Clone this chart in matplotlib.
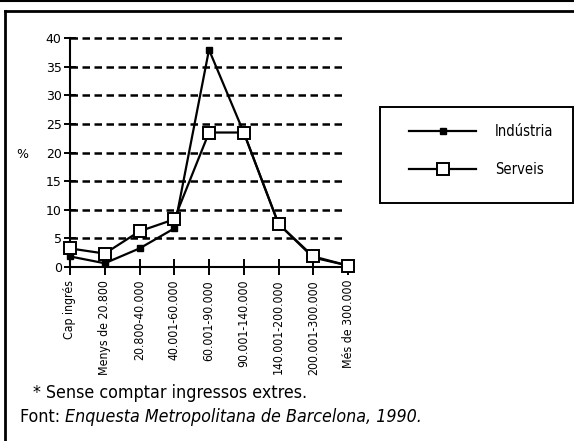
import matplotlib
matplotlib.use("Agg")
import matplotlib.pyplot as plt
from matplotlib.lines import Line2D
from matplotlib.patches import Rectangle

categories = ["Cap ingrés", "Menys de 20.800", "20.800-40.000", "40.001-60.000",
              "60.001-90.000", "90.001-140.000", "140.001-200.000",
              "200.001-300.000", "Més de 300.000"]
industria = [1.8, 0.6, 3.2, 6.7, 38.0, 23.5, 7.5, 1.6, 0.2]
serveis = [3.2, 2.3, 6.2, 8.3, 23.5, 23.5, 7.5, 1.8, 0.2]
yticks = [0, 5, 10, 15, 20, 25, 30, 35, 40]

plt.rcParams["font.family"] = ["DejaVu Sans"]
COND = dict(family="DejaVu Sans", stretch="condensed")

W, H = 574, 441
fig = plt.figure(figsize=(W / 100, H / 100), dpi=100)
ax = fig.add_axes([70 / W, 1 - 266.7 / H, (348 - 70) / W, (266.7 - 38.3) / H])

x = list(range(len(categories)))
ax.plot(x, industria, color="black", lw=1.6, marker="s", ms=5,
        mfc="black", mec="black", clip_on=False, zorder=3, label="Indústria")
ax.plot(x, serveis, color="black", lw=1.6, marker="s", ms=8.5,
        mfc="white", mec="black", mew=1.4, clip_on=False, zorder=4,
        label="Serveis")

ax.set_xlim(0, 8)
ax.set_ylim(0, 40)
ax.set_yticks(yticks)
ax.set_xticks(x)
ax.set_xticklabels(categories, rotation=90, fontsize=8.8, **COND)
ax.tick_params(axis="x", direction="inout", length=11, width=1.4,
               colors="black", pad=4)
ax.tick_params(axis="y", direction="inout", length=8, width=1.4,
               colors="black", labelsize=9, pad=2)
for s in ("top", "right"):
    ax.spines[s].set_visible(False)
ax.spines["left"].set_linewidth(1.5)
ax.spines["bottom"].set_linewidth(1.5)
for v in yticks[1:]:
    ax.plot([0, 7.92], [v, v], color="black", lw=1.8, ls=(0, (3, 1.8)),
            zorder=1, clip_on=False)

fig.text(22 / W, 1 - 155 / H, "%", fontsize=9, ha="center", va="center")

# legend box + entries
fig.add_artist(Rectangle((380 / W, 1 - 203 / H), 193 / W, 96 / H,
                         transform=fig.transFigure, fill=False,
                         edgecolor="black", lw=1.4))
leg = ax.legend(loc="upper left", bbox_to_anchor=(409 / W, 1 - 124 / H),
                bbox_transform=fig.transFigure, frameon=False,
                borderaxespad=0, borderpad=0, handlelength=4.6,
                handletextpad=1.3, labelspacing=1.6,
                prop=dict(size=10.5, **COND))

fig.text(33 / W, 1 - 393 / H, "* Sense comptar ingressos extres.",
         fontsize=12.8, va="center", ha="left", **COND)
t1 = fig.text(20 / W, 1 - 417 / H, "Font: ", fontsize=12.8, va="center",
              ha="left", **COND)
fig.canvas.draw()
bb = t1.get_window_extent()
fig.text(bb.x1 / W, 1 - 417 / H, "Enquesta Metropolitana de Barcelona, 1990.",
         fontsize=12.8, va="center", ha="left", style="italic", **COND)

# page frame
fig.add_artist(Line2D([0, 1], [1 - 1 / H, 1 - 1 / H], color="black", lw=1.5))
fig.add_artist(Line2D([5 / W, 1], [1 - 11 / H, 1 - 11 / H], color="black",
                      lw=2))
fig.add_artist(Line2D([5 / W, 5 / W], [0, 1 - 11 / H], color="black", lw=2))

fig.savefig("out.png", dpi=100)
